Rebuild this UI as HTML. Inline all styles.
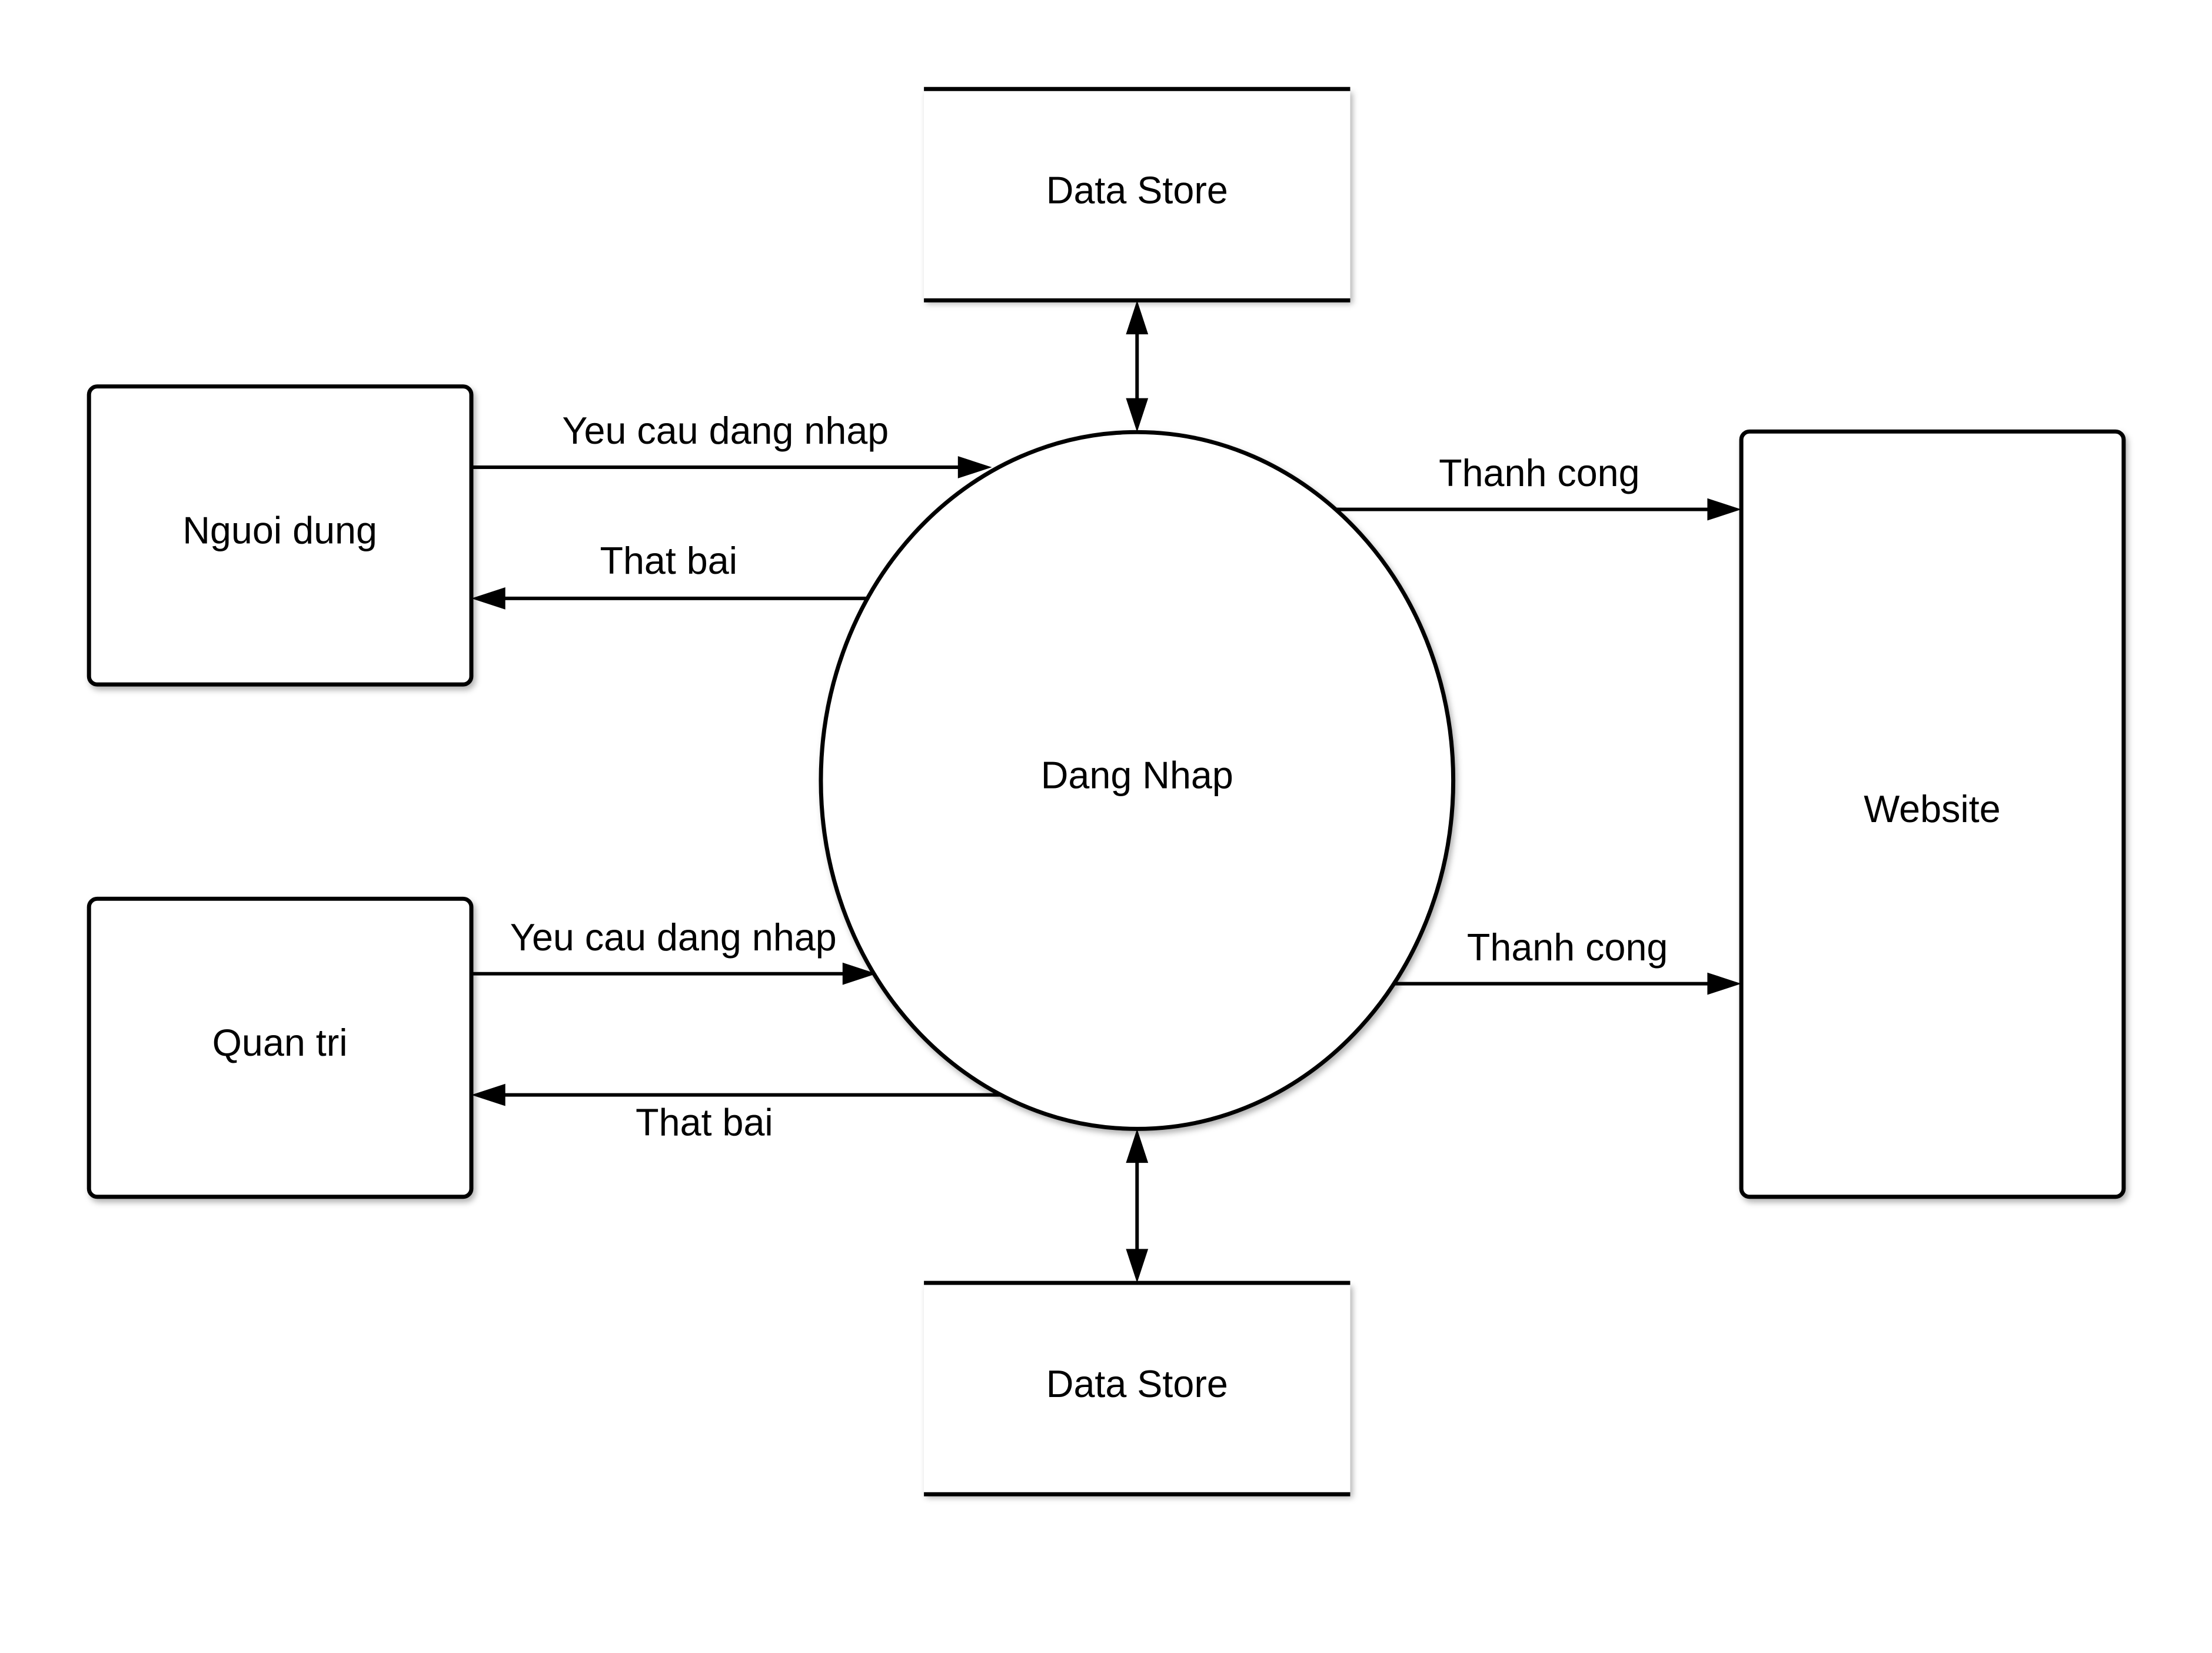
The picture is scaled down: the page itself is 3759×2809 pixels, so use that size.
<!DOCTYPE html>
<html><head><meta charset="utf-8"><style>html,body{margin:0;padding:0;background:#fff}svg{display:block}</style></head>
<body>
<svg width="3759" height="2809" viewBox="0 0 3759 2809" xmlns="http://www.w3.org/2000/svg" font-family="Liberation Sans, sans-serif" font-size="65" text-anchor="middle">
<defs>
<filter id="s" x="-10%" y="-10%" width="130%" height="130%"><feDropShadow dx="4" dy="6" stdDeviation="5" flood-color="#000" flood-opacity="0.3"/></filter>
</defs>
<g transform="scale(0.995)">
<g fill="#fff" stroke="#000" stroke-width="7">
<rect x="152" y="660" width="653" height="509" rx="14" filter="url(#s)"/>
<rect x="152" y="1535" width="653" height="509" rx="14" filter="url(#s)"/>
<rect x="2974" y="737" width="653" height="1307" rx="14" filter="url(#s)"/>
<ellipse cx="1942" cy="1333" rx="540" ry="595" filter="url(#s)"/>
</g>
<g filter="url(#s)">
<rect x="1578" y="152" width="728" height="361" fill="#fff"/>
<rect x="1578" y="2191" width="728" height="361" fill="#fff"/>
</g>
<g stroke="#000" stroke-width="7">
<line x1="1578" y1="152" x2="2306" y2="152"/><line x1="1578" y1="513" x2="2306" y2="513"/>
<line x1="1578" y1="2191" x2="2306" y2="2191"/><line x1="1578" y1="2552" x2="2306" y2="2552"/>
</g>
<g stroke="#000" stroke-width="6" fill="none">
<path d="M805,798 H1650"/>
<path d="M1480,1022 H850"/>
<path d="M2282,870 H2930"/>
<path d="M805,1663 H1450"/>
<path d="M1711,1870 H850"/>
<path d="M2379,1680 H2930"/>
<path d="M1942,560 V690"/>
<path d="M1942,1975 V2145"/>
</g>
<g fill="#000">
<polygon points="1636,779 1694,798 1636,817"/>
<polygon points="863,1003 805,1022 863,1041"/>
<polygon points="2916,851 2974,870 2916,889"/>
<polygon points="1439,1644 1497,1663 1439,1682"/>
<polygon points="863,1851 805,1870 863,1889"/>
<polygon points="2916,1661 2974,1680 2916,1699"/>
<polygon points="1923,571 1942,513 1961,571"/>
<polygon points="1923,680 1942,738 1961,680"/>
<polygon points="1923,1986 1942,1928 1961,1986"/>
<polygon points="1923,2133 1942,2191 1961,2133"/>
</g>
<g fill="#000">
<text x="1942" y="347">Data Store</text>
<text x="1942" y="2386">Data Store</text>
<text x="478" y="928">Nguoi dung</text>
<text x="478" y="1803">Quan tri</text>
<text x="3300" y="1404">Website</text>
<text x="1942" y="1346">Dang Nhap</text>
<text x="1239" y="758">Yeu cau dang nhap</text>
<text x="1142" y="980">That bai</text>
<text x="2629" y="830">Thanh cong</text>
<text x="1150" y="1623">Yeu cau dang nhap</text>
<text x="1203" y="1939">That bai</text>
<text x="2677" y="1640">Thanh cong</text>
</g>
</g>
</svg>
</body></html>
